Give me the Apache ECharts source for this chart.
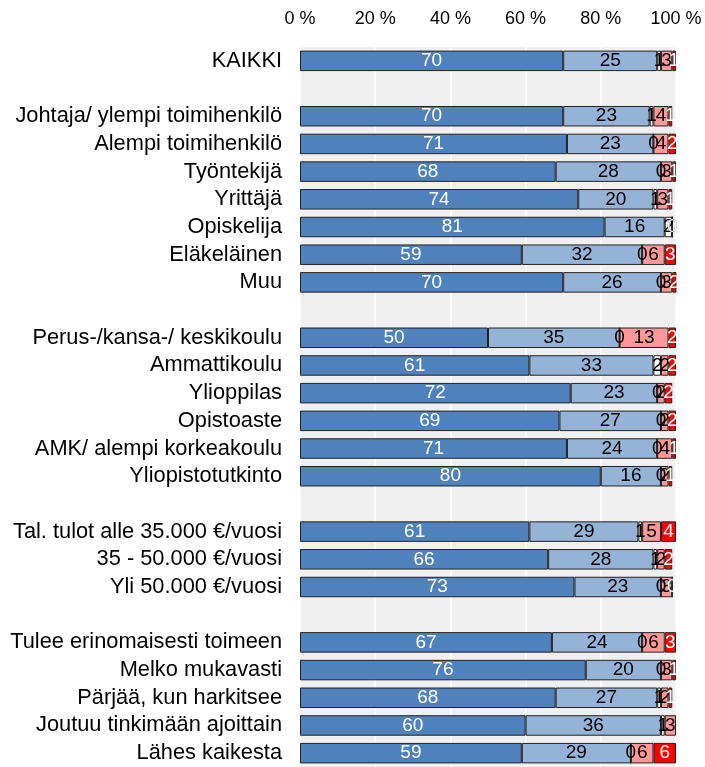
<!DOCTYPE html>
<html>
<head>
<meta charset="utf-8">
<script src="https://cdn.jsdelivr.net/npm/echarts@6/dist/echarts.min.js"></script>
<style>
  html, body { margin: 0; padding: 0; background: #fff; }
  #chart { width: 705px; height: 767px; }
</style>
</head>
<body>
<div id="chart"></div>
<script>
// rows top to bottom, '' = spacer row
const categories = [
  'KAIKKI', '',
  'Johtaja/ ylempi toimihenkilö', 'Alempi toimihenkilö', 'Työntekijä', 'Yrittäjä',
  'Opiskelija', 'Eläkeläinen', 'Muu', ' ',
  'Perus-/kansa-/ keskikoulu', 'Ammattikoulu', 'Ylioppilas', 'Opistoaste',
  'AMK/ alempi korkeakoulu', 'Yliopistotutkinto', '  ',
  'Tal. tulot alle 35.000 €/vuosi', '35 - 50.000 €/vuosi', 'Yli 50.000 €/vuosi', '   ',
  'Tulee erinomaisesti toimeen', 'Melko mukavasti', 'Pärjää, kun harkitsee',
  'Joutuu tinkimään ajoittain', 'Lähes kaikesta'
]
const s1 = [70, null, 70, 71, 68, 74, 81, 59, 70, null, 50, 61, 72, 69, 71, 80, null, 61, 66, 73, null, 67, 76, 68, 60, 59]
const s2 = [25, null, 23, 23, 28, 20, 16, 32, 26, null, 35, 33, 23, 27, 24, 16, null, 29, 28, 23, null, 24, 20, 27, 36, 29]
const s3 = [1, null, 1, 0, 0, 1, 2, 0, 0, null, 0, 2, 0, 0, 0, 0, null, 1, 1, 0, null, 0, 0, 1, 1, 0]
const s4 = [3, null, 4, 4, 3, 3, 0, 6, 3, null, 13, 2, 2, 2, 4, 2, null, 5, 2, 3, null, 6, 3, 2, 3, 6]
const s5 = [1, null, 1, 2, 1, 1, 0, 3, 2, null, 2, 2, 2, 2, 1, 1, null, 4, 2, 0, null, 3, 1, 1, 1, 6]
const xTicks = [0, 20, 40, 60, 80, 100]

const seriesDefs = [
  { data: s1, color: '#4F81BD', text: '#fff' },
  { data: s2, color: '#95B3D7', text: '#000' },
  { data: s3, color: '#FFFFFF', text: '#000' },
  { data: s4, color: '#FF9999', text: '#000' },
  { data: s5, color: '#FF0000', text: '#fff' },
]

const chart = echarts.init(document.getElementById('chart'))
chart.setOption({
  animation: false,
  grid: { left: 300, right: 29, top: 47, bottom: 0, backgroundColor: '#F0F0F0', show: true, borderWidth: 0 },
  xAxis: {
    type: 'value', position: 'top', min: 0, max: 100, interval: 20,
    axisLabel: { formatter: v => xTicks.includes(v) ? v + ' %' : '', color: '#000', fontSize: 18, fontFamily: 'Liberation Sans', margin: 19 },
    axisLine: { show: false }, axisTick: { show: false },
    splitLine: { show: true, lineStyle: { color: '#FFFFFF', width: 1.5 } }
  },
  yAxis: {
    type: 'category', inverse: true, data: categories,
    axisLabel: { interval: 0, color: '#000', fontSize: 21.8, fontFamily: 'Liberation Sans', margin: 18 },
    axisLine: { show: false }, axisTick: { show: false }
  },
  series: seriesDefs.map(d => ({
    type: 'bar', stack: 'all', data: d.data, barWidth: '74%',
    itemStyle: { color: d.color, borderColor: '#222', borderWidth: 1 },
    label: { show: true, position: 'inside', color: d.text, fontSize: 19, fontFamily: 'Liberation Sans' }
  }))
})
</script>
</body>
</html>
